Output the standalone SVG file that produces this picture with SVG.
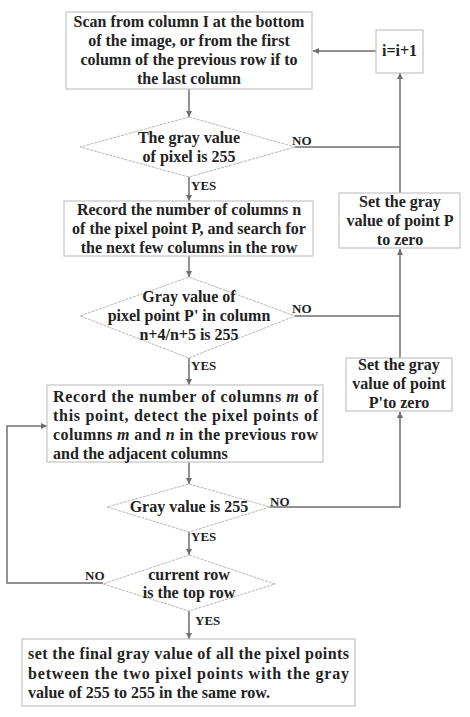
<svg xmlns="http://www.w3.org/2000/svg" width="470" height="717" viewBox="0 0 470 717">
<style>
.box{fill:#fff;stroke:#c4c4c4;stroke-width:1.2}
.dia{fill:#fff;stroke:#b8b8b8;stroke-width:1;stroke-dasharray:3 1}
.t{font-family:"Liberation Serif","Times New Roman",serif;font-weight:bold;font-size:16px;fill:#222}
.c{text-anchor:middle}
.lb{font-family:"Liberation Serif","Times New Roman",serif;font-weight:bold;font-size:13px;fill:#222}
.ln{fill:none;stroke:#6e6e6e;stroke-width:1.5}
</style>
<defs>
<marker id="ah" viewBox="0 0 10 10" refX="10" refY="5" markerWidth="6" markerHeight="6" orient="auto" markerUnits="userSpaceOnUse">
<path d="M0,0 L10,5 L0,10 Z" fill="#6e6e6e"/>
</marker>
</defs>
<rect width="470" height="717" fill="#fff"/>
<g id="connectors">
<path class="ln" d="M376,51 H313" marker-end="url(#ah)"/>
<path class="ln" d="M189,89 V117" marker-end="url(#ah)"/>
<path class="ln" d="M295,147 H400"/>
<path class="ln" d="M400,193 V73" marker-end="url(#ah)"/>
<path class="ln" d="M189,177 V201" marker-end="url(#ah)"/>
<path class="ln" d="M189,256 V277" marker-end="url(#ah)"/>
<path class="ln" d="M295,316 H400"/>
<path class="ln" d="M400,358 V249" marker-end="url(#ah)"/>
<path class="ln" d="M189,358 V385" marker-end="url(#ah)"/>
<path class="ln" d="M189,462 V484" marker-end="url(#ah)"/>
<path class="ln" d="M270,507 H400 V412" marker-end="url(#ah)"/>
<path class="ln" d="M189,532 V555" marker-end="url(#ah)"/>
<path class="ln" d="M103,583 H7 V426 H47" marker-end="url(#ah)"/>
<path class="ln" d="M189,611 V639" marker-end="url(#ah)"/>
<text class="lb" x="292" y="145">NO</text>
<text class="lb" x="292" y="313">NO</text>
<text class="lb" x="270" y="506">NO</text>
<text class="lb" x="85" y="580">NO</text>
<text class="lb" x="191" y="190">YES</text>
<text class="lb" x="191" y="370">YES</text>
<text class="lb" x="191" y="541">YES</text>
<text class="lb" x="195" y="625">YES</text>
</g>
<g id="scan">
<rect class="box" x="66" y="12" width="246" height="77"/>
<text class="t c" x="189" y="27">Scan from column I at the bottom</text>
<text class="t c" x="189" y="46">of the image, or from the first</text>
<text class="t c" x="189" y="65">column of the previous row if to</text>
<text class="t c" x="189" y="84">the last column</text>
</g>
<g id="inc">
<rect class="box" x="376" y="30" width="47" height="43"/>
<text class="t c" x="399.5" y="56">i=i+1</text>
</g>
<g id="d1">
<polygon class="dia" points="189,117 295,147 189,177 80,147"/>
<text class="t c" x="189" y="143">The gray value</text>
<text class="t c" x="189" y="162">of pixel is 255</text>
</g>
<g id="rec1">
<rect class="box" x="64" y="201" width="249" height="55"/>
<text class="t c" x="189" y="215">Record the number of columns n</text>
<text class="t c" x="189" y="234">of the pixel point P, and search for</text>
<text class="t c" x="189" y="253">the next few columns in the row</text>
</g>
<g id="setP">
<rect class="box" x="339" y="193" width="121" height="55"/>
<text class="t c" x="400" y="207">Set the gray</text>
<text class="t c" x="400" y="226">value of point P</text>
<text class="t c" x="400" y="245">to zero</text>
</g>
<g id="d2">
<polygon class="dia" points="189,277 295,316 189,358 80,316"/>
<text class="t c" x="189" y="302">Gray value of</text>
<text class="t c" x="189" y="321">pixel point P' in column</text>
<text class="t c" x="189" y="340">n+4/n+5 is 255</text>
</g>
<g id="setP2">
<rect class="box" x="346" y="358" width="106" height="53"/>
<text class="t c" x="399" y="370">Set the gray</text>
<text class="t c" x="399" y="389">value of point</text>
<text class="t c" x="399" y="408">P'to zero</text>
</g>
<g id="rec2">
<rect class="box" x="47" y="385" width="276" height="77"/>
<text class="t" x="53" y="402" textLength="265" lengthAdjust="spacing">Record the number of columns <tspan font-style="italic">m</tspan> of</text>
<text class="t" x="53" y="421" textLength="265" lengthAdjust="spacing">this point, detect the pixel points of</text>
<text class="t" x="53" y="440" textLength="265" lengthAdjust="spacing">columns <tspan font-style="italic">m</tspan> and <tspan font-style="italic">n</tspan>  in the previous row</text>
<text class="t" x="53" y="459">and the adjacent columns</text>
</g>
<g id="d3">
<polygon class="dia" points="189,484 270,507 189,532 107,507"/>
<text class="t c" x="189" y="512">Gray value is 255</text>
</g>
<g id="d4">
<polygon class="dia" points="189,555 275,584 189,611 103,584"/>
<text class="t c" x="189" y="580">current row</text>
<text class="t c" x="189" y="598">is the top row</text>
</g>
<g id="final">
<rect class="box" x="22" y="639" width="333" height="67"/>
<text class="t" x="28" y="659" textLength="321" lengthAdjust="spacing">set the final gray value of all the pixel points</text>
<text class="t" x="28" y="679" textLength="321" lengthAdjust="spacing">between the two pixel points with the gray</text>
<text class="t" x="28" y="698">value of 255 to 255 in the same row.</text>
</g>
</svg>
